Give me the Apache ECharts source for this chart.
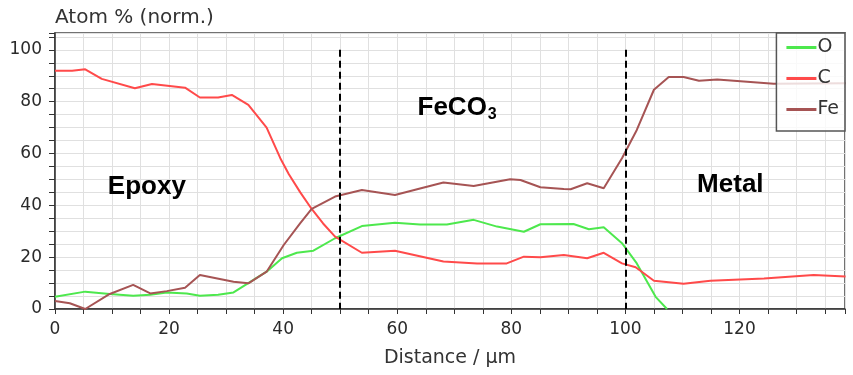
<!DOCTYPE html>
<html>
<head>
<meta charset="utf-8">
<script src="https://cdn.jsdelivr.net/npm/echarts@6/dist/echarts.min.js"></script>
<style>
html, body { margin: 0; padding: 0; background: #fff; }
#chart { width: 853px; height: 375px; }
</style>
</head>
<body>
<div id="chart"></div>
<script>
// EDX line scan, [distance um, atom %]
var oData = [[0,4.7],[5.3,6.7],[9.6,5.8],[13.7,5.1],[16.7,5.5],[19.6,6.4],[23.1,6.0],[25.4,5.1],[28.6,5.5],[31.3,6.4],[37.1,14.4],[39.8,19.6],[42.4,21.7],[45.3,22.5],[49.1,27.3],[53.8,32],[59.6,33.3],[64,32.6],[68.7,32.6],[73.4,34.4],[77.5,31.8],[82.2,29.8],[85.1,32.7],[90.9,32.8],[93.6,30.8],[96.2,31.5],[99.4,25.4],[102,17.6],[105.3,4.7],[107.3,0]];
var cData = [[0,91.9],[3,91.9],[5.3,92.5],[8.2,88.8],[14,85.2],[17,86.8],[22.8,85.4],[25.4,81.6],[28.6,81.6],[31,82.6],[33.9,78.8],[37.1,70],[39.5,58.2],[41,52],[43,45],[45,38.6],[47,33],[49.1,27.9],[53.8,21.7],[59.6,22.5],[68.1,18.3],[74,17.6],[79.2,17.6],[82.2,20.2],[85.1,20],[89.2,20.8],[93.3,19.6],[96.2,21.7],[99.4,17.6],[101.8,16.1],[105,10.9],[110.2,9.7],[114.9,10.9],[124.3,11.8],[133,13.1],[138.6,12.5]];
var feData = [[0,3.1],[2.6,2.2],[5.3,0],[9.6,5.8],[13.7,9.3],[16.7,6.0],[19.6,6.9],[22.8,8.2],[25.4,13.1],[31.3,10.5],[33.9,9.9],[37.1,14.4],[40.1,24.7],[43,33.1],[45,38.6],[49.1,43.4],[53.8,45.9],[59.6,44],[64,46.5],[68.1,48.8],[73.4,47.5],[79.8,50.1],[81.6,49.8],[85.1,47],[89.2,46.3],[90.4,46.2],[93.3,48.5],[96.2,46.6],[99.4,58.2],[102,69.1],[105,84.6],[107.6,89.5],[110.2,89.5],[112.9,88.1],[116.1,88.6],[126,86.9],[138.6,87.1]];

var seriesNames = ['O', 'C', 'Fe'];
var boundaries = [50, 100];   // dashed layer boundaries
var regionLabels = [
  { text: 'Epoxy', x: 16.1, y: 47 },
  { text: 'FeCO3', x: 70.5, y: 77.6 },
  { text: 'Metal', x: 118.4, y: 47.9 }
];

var chart = echarts.init(document.getElementById('chart'));

var lineMarks = boundaries.map(function (b) {
  return [{ coord: [b, 100] }, { coord: [b, 0] }];
});

var pointMarks = regionLabels.map(function (r) {
  var txt = r.text === 'FeCO3' ? '{a|FeCO}{b|3}' : '{a|' + r.text + '}';
  return { coord: [r.x, r.y], label: { formatter: txt } };
});

var option = {
  animation: false,
  grid: {
    left: 55, right: 8, top: 33, bottom: 66,
    show: true, borderColor: '#444', borderWidth: 1.5
  },
  legend: {
    data: seriesNames.map(function (n) { return { name: n, icon: 'rect' }; }),
    orient: 'vertical',
    right: 8, top: 33,
    itemWidth: 30, itemHeight: 3, itemGap: 12,
    padding: [5, 6, 12, 10],
    borderColor: '#555', borderWidth: 1.5,
    backgroundColor: 'rgba(255,255,255,0.8)',
    textStyle: { fontFamily: 'DejaVu Sans', fontSize: 19, lineHeight: 14, color: '#333', padding: [0, 0, 0, -4] }
  },
  xAxis: {
    type: 'value', min: 0, max: 138.5, interval: 5,
    name: 'Distance / µm', nameLocation: 'middle', nameGap: 40,
    nameTextStyle: { fontFamily: 'DejaVu Sans', fontSize: 19, color: '#333' },
    axisLine: { lineStyle: { color: '#333', width: 1.5 } },
    axisTick: { show: true, length: 5, lineStyle: { color: '#333' } },
    axisLabel: {
      margin: 12, fontFamily: 'DejaVu Sans', fontSize: 17, color: '#2a2a2a',
      formatter: function (v) { return v % 20 === 0 ? v : ''; }
    },
    splitLine: { show: true, lineStyle: { color: '#e0e0e0', width: 1 } }
  },
  yAxis: {
    type: 'value', min: 0, max: 106.5, interval: 5,
    name: 'Atom % (norm.)', nameLocation: 'end', nameGap: 5,
    nameTextStyle: { fontFamily: 'DejaVu Sans', fontSize: 20, color: '#333', align: 'left', verticalAlign: 'bottom' },
    axisLine: { show: true, lineStyle: { color: '#333', width: 1.5 } },
    axisTick: { show: true, length: 6, lineStyle: { color: '#333' } },
    axisLabel: {
      margin: 13, fontFamily: 'DejaVu Sans', fontSize: 17, color: '#2a2a2a',
      formatter: function (v) { return v % 20 === 0 ? v : ''; }
    },
    splitLine: { show: true, lineStyle: { color: '#e0e0e0', width: 1 } }
  },
  series: [
    {
      name: 'O', type: 'line', data: oData, symbol: 'none',
      lineStyle: { color: '#4de84d', width: 2 }, itemStyle: { color: '#4de84d' },
      markLine: {
        silent: true, symbol: 'none', label: { show: false },
        lineStyle: { color: '#000', width: 2, type: [7, 4] },
        data: lineMarks
      }
    },
    {
      name: 'C', type: 'line', data: cData, symbol: 'none',
      lineStyle: { color: '#ff4a4a', width: 2 }, itemStyle: { color: '#ff4a4a' }
    },
    {
      name: 'Fe', type: 'line', data: feData, symbol: 'none',
      lineStyle: { color: '#a65454', width: 2 }, itemStyle: { color: '#a65454' },
      markPoint: {
        silent: true, symbol: 'circle', symbolSize: 0,
        label: {
          show: true, position: 'inside',
          rich: {
            a: { fontFamily: 'Liberation Sans', fontWeight: 'bold', fontSize: 26, color: '#000' },
            b: { fontFamily: 'Liberation Sans', fontWeight: 'bold', fontSize: 16, color: '#000', padding: [14, 0, 0, 1] }
          }
        },
        data: pointMarks
      }
    }
  ]
};

chart.setOption(option);
</script>
</body>
</html>
